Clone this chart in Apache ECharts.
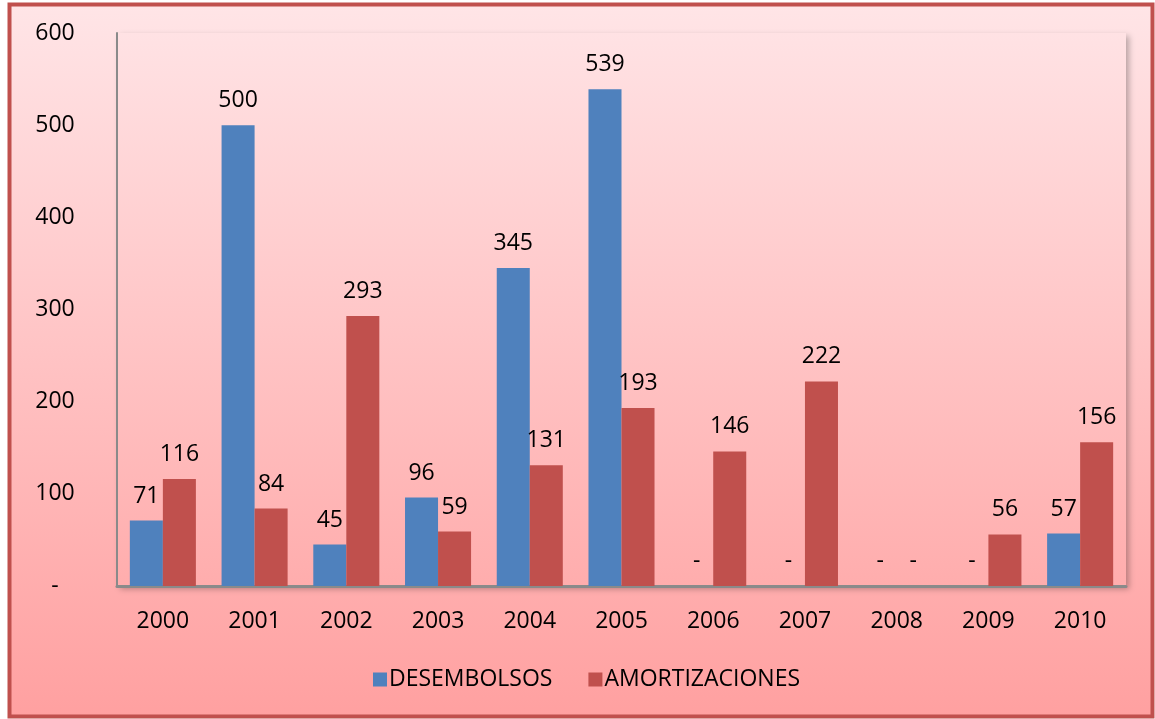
<!DOCTYPE html>
<html>
<head>
<meta charset="utf-8">
<script src="https://cdn.jsdelivr.net/npm/echarts@6/dist/echarts.min.js"></script>
<style>
  html, body { margin: 0; padding: 0; background: #ffffff; }
  #chart { width: 1155px; height: 719px; }
</style>
</head>
<body>
<div id="chart"></div>
<script>
// Years on the category axis
const years = ['2000', '2001', '2002', '2003', '2004', '2005', '2006', '2007', '2008', '2009', '2010'];
// Disbursements and amortizations per year
const desembolsos = [71, 500, 45, 96, 345, 539, 0, 0, 0, 0, 57];
const amortizaciones = [116, 84, 293, 59, 131, 193, 146, 222, 0, 56, 156];
const seriesNames = ['DESEMBOLSOS', 'AMORTIZACIONES'];

const FONT = 'Open Sans';
const FS = 23;
const TOP_COLOR = [255, 229, 231];
const BOTTOM_COLOR = [255, 160, 160];
const FRAME = { x: 9.5, y: 4.5, w: 1143, h: 712 };
const GRID = { left: 117, top: 33, right: 1155 - 1126, bottom: 719 - 586 };

// colour of the page gradient at a given pixel row
function bgAt(y) {
  const t = Math.min(1, Math.max(0, (y - FRAME.y) / FRAME.h));
  const c = TOP_COLOR.map((v, i) => Math.round(v + (BOTTOM_COLOR[i] - v) * t));
  return 'rgb(' + c.join(',') + ')';
}

const dashZero = v => (v === 0 ? '-' : String(v));

const chart = echarts.init(document.getElementById('chart'));
chart.setOption({
  backgroundColor: '#ffffff',
  animation: false,
  textStyle: { fontFamily: FONT },
  graphic: [{
    type: 'rect',
    z: -10,
    silent: true,
    shape: { x: FRAME.x, y: FRAME.y, width: FRAME.w, height: FRAME.h },
    style: {
      fill: new echarts.graphic.LinearGradient(0, 0, 0, 1, [
        { offset: 0, color: bgAt(FRAME.y) },
        { offset: 1, color: bgAt(FRAME.y + FRAME.h) }
      ]),
      stroke: '#C0504D',
      lineWidth: 4
    }
  }],
  grid: {
    left: GRID.left, top: GRID.top, right: GRID.right, bottom: GRID.bottom,
    show: true,
    borderWidth: 0,
    backgroundColor: new echarts.graphic.LinearGradient(0, 0, 0, 1, [
      { offset: 0, color: bgAt(33) },
      { offset: 1, color: bgAt(586) }
    ]),
    shadowColor: 'rgba(0,0,0,0.28)',
    shadowBlur: 6,
    shadowOffsetX: 3,
    shadowOffsetY: 3
  },
  legend: {
    data: seriesNames,
    left: 368,
    top: 663,
    itemWidth: 14,
    itemHeight: 14,
    itemGap: 36,
    icon: 'rect',
    textStyle: { fontFamily: FONT, fontSize: FS, color: '#000', padding: [0, 0, 0, -3] }
  },
  xAxis: {
    type: 'category',
    data: years,
    axisLine: { show: true, lineStyle: { color: '#8A8A8A', width: 3 } },
    axisTick: { show: false },
    axisLabel: { fontFamily: FONT, fontSize: FS, color: '#000', margin: 24 }
  },
  yAxis: {
    type: 'value',
    min: 0,
    max: 600,
    interval: 100,
    splitLine: { show: false },
    axisTick: { show: false },
    axisLine: { show: true, lineStyle: { color: '#8A8A8A', width: 2 } },
    axisLabel: {
      fontFamily: FONT, fontSize: FS, color: '#000',
      align: 'center', margin: 62,
      formatter: dashZero
    }
  },
  series: [
    {
      name: seriesNames[0],
      type: 'bar',
      data: desembolsos,
      barGap: '0%',
      barCategoryGap: '28%',
      itemStyle: { color: '#4F81BD' },
      label: {
        show: true, position: 'top', distance: 13,
        fontFamily: FONT, fontSize: FS, color: '#000',
        formatter: p => dashZero(p.value)
      }
    },
    {
      name: seriesNames[1],
      type: 'bar',
      data: amortizaciones,
      barGap: '0%',
      barCategoryGap: '28%',
      itemStyle: { color: '#C0504D' },
      label: {
        show: true, position: 'top', distance: 13,
        fontFamily: FONT, fontSize: FS, color: '#000',
        formatter: p => dashZero(p.value)
      }
    }
  ]
});
</script>
</body>
</html>
